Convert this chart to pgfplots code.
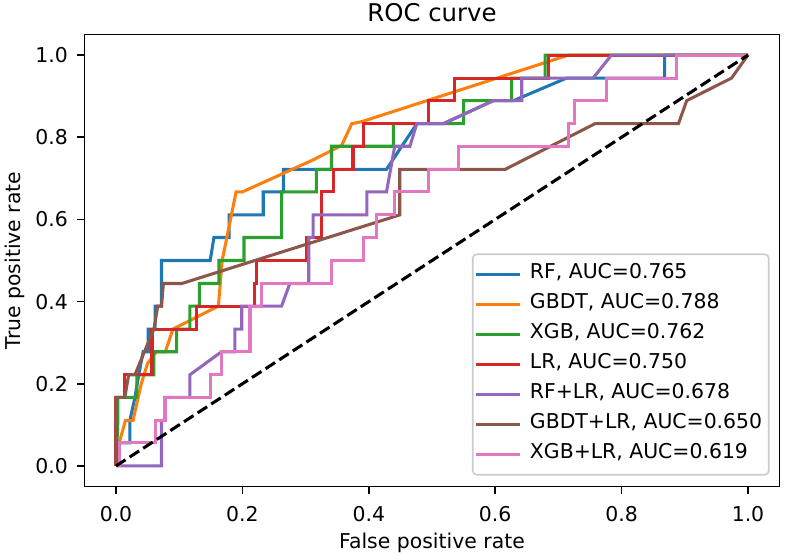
\documentclass[border=0pt]{standalone}
\usepackage{fontspec}
\setmainfont{DejaVu Sans}
\usepackage{pgfplots}
\pgfplotsset{compat=1.18}
\definecolor{c1}{HTML}{1F77B4}
\definecolor{c2}{HTML}{FF7F0E}
\definecolor{c3}{HTML}{2CA02C}
\definecolor{c4}{HTML}{D62728}
\definecolor{c5}{HTML}{9467BD}
\definecolor{c6}{HTML}{8C564B}
\definecolor{c7}{HTML}{E377C2}
\begin{document}
\fontsize{10.2}{12.2}\selectfont
\begin{tikzpicture}
\begin{axis}[
  name=ax, at={(0,0)}, anchor=south west,
  scale only axis, width=347.6pt, height=226pt,
  xmin=-0.05, xmax=1.05, ymin=-0.05, ymax=1.05,
  xtick={0,0.2,0.4,0.6,0.8,1}, ytick={0,0.2,0.4,0.6,0.8,1},
  xtick pos=bottom, ytick pos=left,
  tick align=outside, major tick length=3.57pt,
  tick style={black, line width=0.82pt},
  axis line style={black, line width=0.82pt},
  /pgf/number format/.cd, fixed, fixed zerofill, precision=1, assume math mode=true,
  /pgfplots/.cd,
  xticklabel style={inner sep=0pt, anchor=base, yshift=-14pt},
  yticklabel style={inner sep=0pt, anchor=east, xshift=-4.5pt},
  title={ROC curve},
  every axis title/.style={at={(axis description cs:0.5,1)}, anchor=base, inner sep=0pt, yshift=6.4pt, font=\fontsize{12.2}{14.6}\selectfont},
  xlabel={False positive rate},
  every axis x label/.style={at={(axis description cs:0.5,0)}, anchor=base, inner sep=0pt, yshift=-30.75pt},
  ylabel={True positive rate},
  every axis y label/.style={at={(axis description cs:-0.0921,0.5)}, rotate=90, anchor=base, inner sep=0pt},
  every axis plot/.append style={line width=1.53pt, line join=miter},
  legend cell align=left,
  legend image code/.code={\draw[#1, line width=1.53pt] (0pt,0pt) -- (21.7pt,0pt);},
  legend style={at={(axis description cs:1,0)}, anchor=south east, xshift=-5pt, yshift=5.5pt,
    draw=black!20, line width=0.82pt, rounded corners=2pt, fill=white, fill opacity=0.8, text opacity=1,
    inner xsep=1pt, inner ysep=2.6pt, row sep=0pt, column sep=2.1pt,
    nodes={inner ysep=2.5pt, inner xsep=2.3pt, text height=7pt, text depth=3pt}},
]
\addplot[c1, line width=1.53pt] coordinates {(0,0) (0,0.056) (0.022,0.056) (0.022,0.111) (0.03,0.167) (0.036,0.222) (0.043,0.278) (0.051,0.278) (0.051,0.333) (0.062,0.333) (0.062,0.389) (0.072,0.389) (0.072,0.5) (0.149,0.5) (0.155,0.556) (0.179,0.556) (0.179,0.611) (0.233,0.611) (0.233,0.667) (0.265,0.667) (0.265,0.722) (0.428,0.722) (0.476,0.833) (0.518,0.833) (0.597,0.889) (0.629,0.889) (0.713,0.944) (0.868,0.944) (0.868,1) (1,1)};
\addlegendentry{RF, AUC=0.765}
\addplot[c2, line width=1.53pt] coordinates {(0,0) (0.005,0.056) (0.015,0.111) (0.027,0.111) (0.04,0.2) (0.05,0.25) (0.064,0.278) (0.078,0.278) (0.09,0.333) (0.162,0.389) (0.168,0.5) (0.19,0.667) (0.2,0.667) (0.312,0.745) (0.357,0.78) (0.373,0.833) (0.389,0.838) (0.716,1) (1,1)};
\addlegendentry{GBDT, AUC=0.788}
\addplot[c3, line width=1.53pt] coordinates {(0,0) (0.003,0.111) (0.003,0.167) (0.033,0.167) (0.033,0.222) (0.06,0.222) (0.06,0.278) (0.096,0.278) (0.096,0.333) (0.117,0.333) (0.117,0.389) (0.132,0.389) (0.132,0.444) (0.163,0.444) (0.163,0.5) (0.2025,0.5) (0.2025,0.556) (0.262,0.556) (0.262,0.667) (0.317,0.667) (0.317,0.722) (0.341,0.722) (0.341,0.778) (0.439,0.778) (0.439,0.833) (0.55,0.833) (0.55,0.889) (0.626,0.889) (0.626,0.944) (0.679,0.944) (0.679,1) (1,1)};
\addlegendentry{XGB, AUC=0.762}
\addplot[c4, line width=1.53pt] coordinates {(0,0) (0,0.167) (0.014,0.167) (0.014,0.222) (0.057,0.222) (0.057,0.333) (0.128,0.333) (0.128,0.389) (0.219,0.389) (0.219,0.444) (0.222,0.444) (0.222,0.5) (0.302,0.5) (0.302,0.556) (0.325,0.556) (0.325,0.667) (0.344,0.667) (0.344,0.722) (0.375,0.722) (0.375,0.778) (0.391,0.778) (0.391,0.833) (0.494,0.833) (0.494,0.889) (0.536,0.889) (0.536,0.944) (0.684,0.944) (0.684,1) (1,1)};
\addlegendentry{LR, AUC=0.750}
\addplot[c5, line width=1.53pt] coordinates {(0,0) (0.072,0) (0.072,0.111) (0.077,0.111) (0.077,0.167) (0.117,0.167) (0.117,0.222) (0.167,0.278) (0.188,0.278) (0.188,0.333) (0.199,0.333) (0.199,0.389) (0.262,0.389) (0.275,0.444) (0.305,0.444) (0.305,0.556) (0.312,0.556) (0.312,0.611) (0.397,0.611) (0.397,0.667) (0.428,0.667) (0.441,0.778) (0.465,0.778) (0.476,0.833) (0.518,0.833) (0.597,0.889) (0.642,0.889) (0.642,0.944) (0.755,0.944) (0.784,1) (1,1)};
\addlegendentry{RF+LR, AUC=0.678}
\addplot[c6, line width=1.53pt] coordinates {(0,0) (0,0.167) (0.014,0.167) (0.02,0.222) (0.03,0.222) (0.045,0.278) (0.06,0.333) (0.066,0.389) (0.072,0.389) (0.075,0.444) (0.104,0.444) (0.449,0.611) (0.449,0.722) (0.616,0.722) (0.758,0.833) (0.89,0.833) (0.903,0.889) (0.974,0.944) (1,1)};
\addlegendentry{GBDT+LR, AUC=0.650\hspace{3.9pt}}
\addplot[c7, line width=1.53pt] coordinates {(0,0) (0.006,0) (0.006,0.056) (0.062,0.056) (0.062,0.111) (0.0775,0.111) (0.0775,0.167) (0.149,0.167) (0.149,0.222) (0.167,0.222) (0.167,0.278) (0.212,0.278) (0.212,0.389) (0.23,0.389) (0.23,0.444) (0.341,0.444) (0.341,0.5) (0.391,0.5) (0.391,0.556) (0.412,0.556) (0.412,0.611) (0.441,0.611) (0.441,0.667) (0.494,0.667) (0.494,0.722) (0.542,0.722) (0.542,0.778) (0.716,0.778) (0.716,0.833) (0.726,0.833) (0.726,0.889) (0.776,0.889) (0.776,0.944) (0.887,0.944) (0.887,1) (1,1)};
\addlegendentry{XGB+LR, AUC=0.619}
\addplot[black, line width=1.53pt, dash pattern=on 5.66pt off 2.45pt, forget plot] coordinates {(0,0) (1,1)};
\end{axis}
\pgfresetboundingbox
\useasboundingbox (-42.2pt,-36.25pt) rectangle (350.8pt,243.25pt);
\end{tikzpicture}
\end{document}
